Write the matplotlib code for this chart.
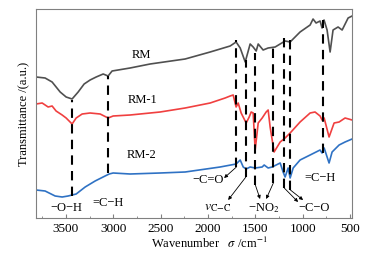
import numpy as np
import matplotlib.pyplot as plt
from matplotlib.ticker import MultipleLocator

plt.rcParams['font.family'] = ['Liberation Serif', 'DejaVu Serif']
plt.rcParams['mathtext.fontset'] = 'stix'

# FTIR spectra (wavenumber in cm-1, transmittance in a.u.)
rm_wn = [3814, 3719, 3645, 3560, 3497, 3434, 3370, 3307, 3244, 3180, 3106, 3054,
         3012, 2822, 2611, 2241, 1977, 1766, 1703, 1660, 1607, 1555, 1523, 1491,
         1470, 1418, 1365, 1291, 1186, 1133, 1028, 922, 891, 859, 817, 796, 775,
         743, 711, 680, 627, 584, 521, 479]
rm_t = [141, 140, 136, 126, 121, 119, 126, 134, 138, 141, 144, 142,
        147, 150, 154, 159, 166, 172, 176, 170, 156, 174, 171, 167,
        174, 168, 170, 171, 177, 176, 186, 193, 199, 195, 197, 190, 198,
        188, 166, 188, 191, 188, 200, 202]

rm1_wn = [3814, 3750, 3687, 3645, 3603, 3539, 3497, 3434, 3391, 3328, 3244, 3138,
          3054, 3001, 2822, 2505, 2241, 1977, 1819, 1766, 1734, 1703, 1681, 1650,
          1597, 1565, 1544, 1523, 1502, 1470, 1428, 1386, 1365, 1344, 1302, 1238,
          1186, 1133, 1028, 922, 870, 817, 796, 774, 722, 669, 616, 553, 479]
rm1_t = [114, 115, 111, 112, 107, 103, 100, 94, 100, 104, 105, 104,
         100, 102, 103, 106, 110, 115, 120, 122, 123, 111, 115, 105,
         95, 101, 106, 105, 68, 95, 100, 106, 108, 91, 66, 76,
         80, 85, 96, 105, 106, 102, 98, 100, 81, 95, 96, 100, 98]

rm2_wn = [3814, 3719, 3613, 3539, 3476, 3434, 3391, 3296, 3191, 3086, 3043, 3001,
          2822, 2505, 2241, 1872, 1703, 1660, 1628, 1597, 1555, 1502, 1428, 1407,
          1365, 1323, 1238, 1207, 1186, 1154, 1133, 1101, 1028, 922, 817, 796,
          774, 722, 690, 616, 553, 479]
rm2_t = [28, 27, 22, 21, 22, 23, 24, 31, 37, 42, 44, 45,
         44, 45, 46, 51, 54, 58, 51, 49, 51, 50, 51, 53,
         50, 51, 55, 46, 41, 50, 40, 50, 58, 63, 68, 65,
         70, 55, 66, 73, 76, 79]

# assigned bands: position, top and bottom of the dashed marker
band_wn = [3430, 3050, 1700, 1600, 1500, 1310, 1195, 1130, 790]
band_top = [118, 142, 178, 158, 165, 171, 180, 178, 198]
band_bot = [22, 45, 51, 41, 33, 35, 30, 28, 65]

fig = plt.figure(figsize=(3.69, 2.58), dpi=100)
ax = fig.add_axes([36 / 369, 40 / 258, 316 / 369, 209 / 258])

ax.plot(rm_wn, rm_t, color='#505050', lw=1.2)
ax.plot(rm1_wn, rm1_t, color='#f04040', lw=1.2)
ax.plot(rm2_wn, rm2_t, color='#2f72c4', lw=1.2)

for w, t, b in zip(band_wn, band_top, band_bot):
    ax.plot([w, w], [b, t], color='black', lw=1.5, ls=(0, (4.5, 3)))

fs = 9
ax.text(2705, 163, 'RM', ha='center', va='center', fontsize=fs)
ax.text(2695, 118, 'RM-1', ha='center', va='center', fontsize=fs)
ax.text(2705, 63, 'RM-2', ha='center', va='center', fontsize=fs)

ax.text(3497, 10, '−O−H', ha='center', va='center', fontsize=fs)
ax.text(3054, 15, '=C−H', ha='center', va='center', fontsize=fs)
ax.text(817, 40, '=C−H', ha='center', va='center', fontsize=fs)
ax.text(2000, 38, '−C=O', ha='center', va='center', fontsize=fs)
ax.text(1893, 10, r'$v_{\mathrm{C\!-\!C}}$', ha='center', va='center', fontsize=fs + 1)
ax.text(1410, 10, r'−NO$_2$', ha='center', va='center', fontsize=fs)
ax.text(880, 10, '−C−O', ha='center', va='center', fontsize=fs)

arrows = [((1700, 51), (1830, 40)),
          ((1600, 41), (1787, 18)),
          ((1500, 33), (1450, 19)),
          ((1310, 35), (1386, 19)),
          ((1195, 30), (1049, 16)),
          ((1130, 28), (996, 18))]
for start, end in arrows:
    ax.annotate('', xy=end, xytext=start,
                arrowprops=dict(arrowstyle='-|>', lw=0.6, color='black',
                                mutation_scale=5, shrinkA=0, shrinkB=0))

ax.set_xlim(3815, 480)
ax.set_ylim(0, 209)
ax.xaxis.set_major_locator(MultipleLocator(500))
ax.xaxis.set_minor_locator(MultipleLocator(250))
ax.tick_params(axis='x', which='both', direction='in', top=False, labelsize=9.5,
               color='#808080')
ax.tick_params(axis='x', which='major', length=3)
ax.tick_params(axis='x', which='minor', length=1.5)
ax.set_yticks([])
for s in ax.spines.values():
    s.set_color('#808080')
    s.set_linewidth(0.8)

ax.set_ylabel('Transmittance /(a.u.)', fontsize=fs, labelpad=4)
fig.text(209 / 369, 1 - 243 / 258, r'Wavenumber   $\sigma$ /cm$^{-1}$',
         ha='center', va='center', fontsize=fs)

fig.savefig('out.png', dpi=100)
